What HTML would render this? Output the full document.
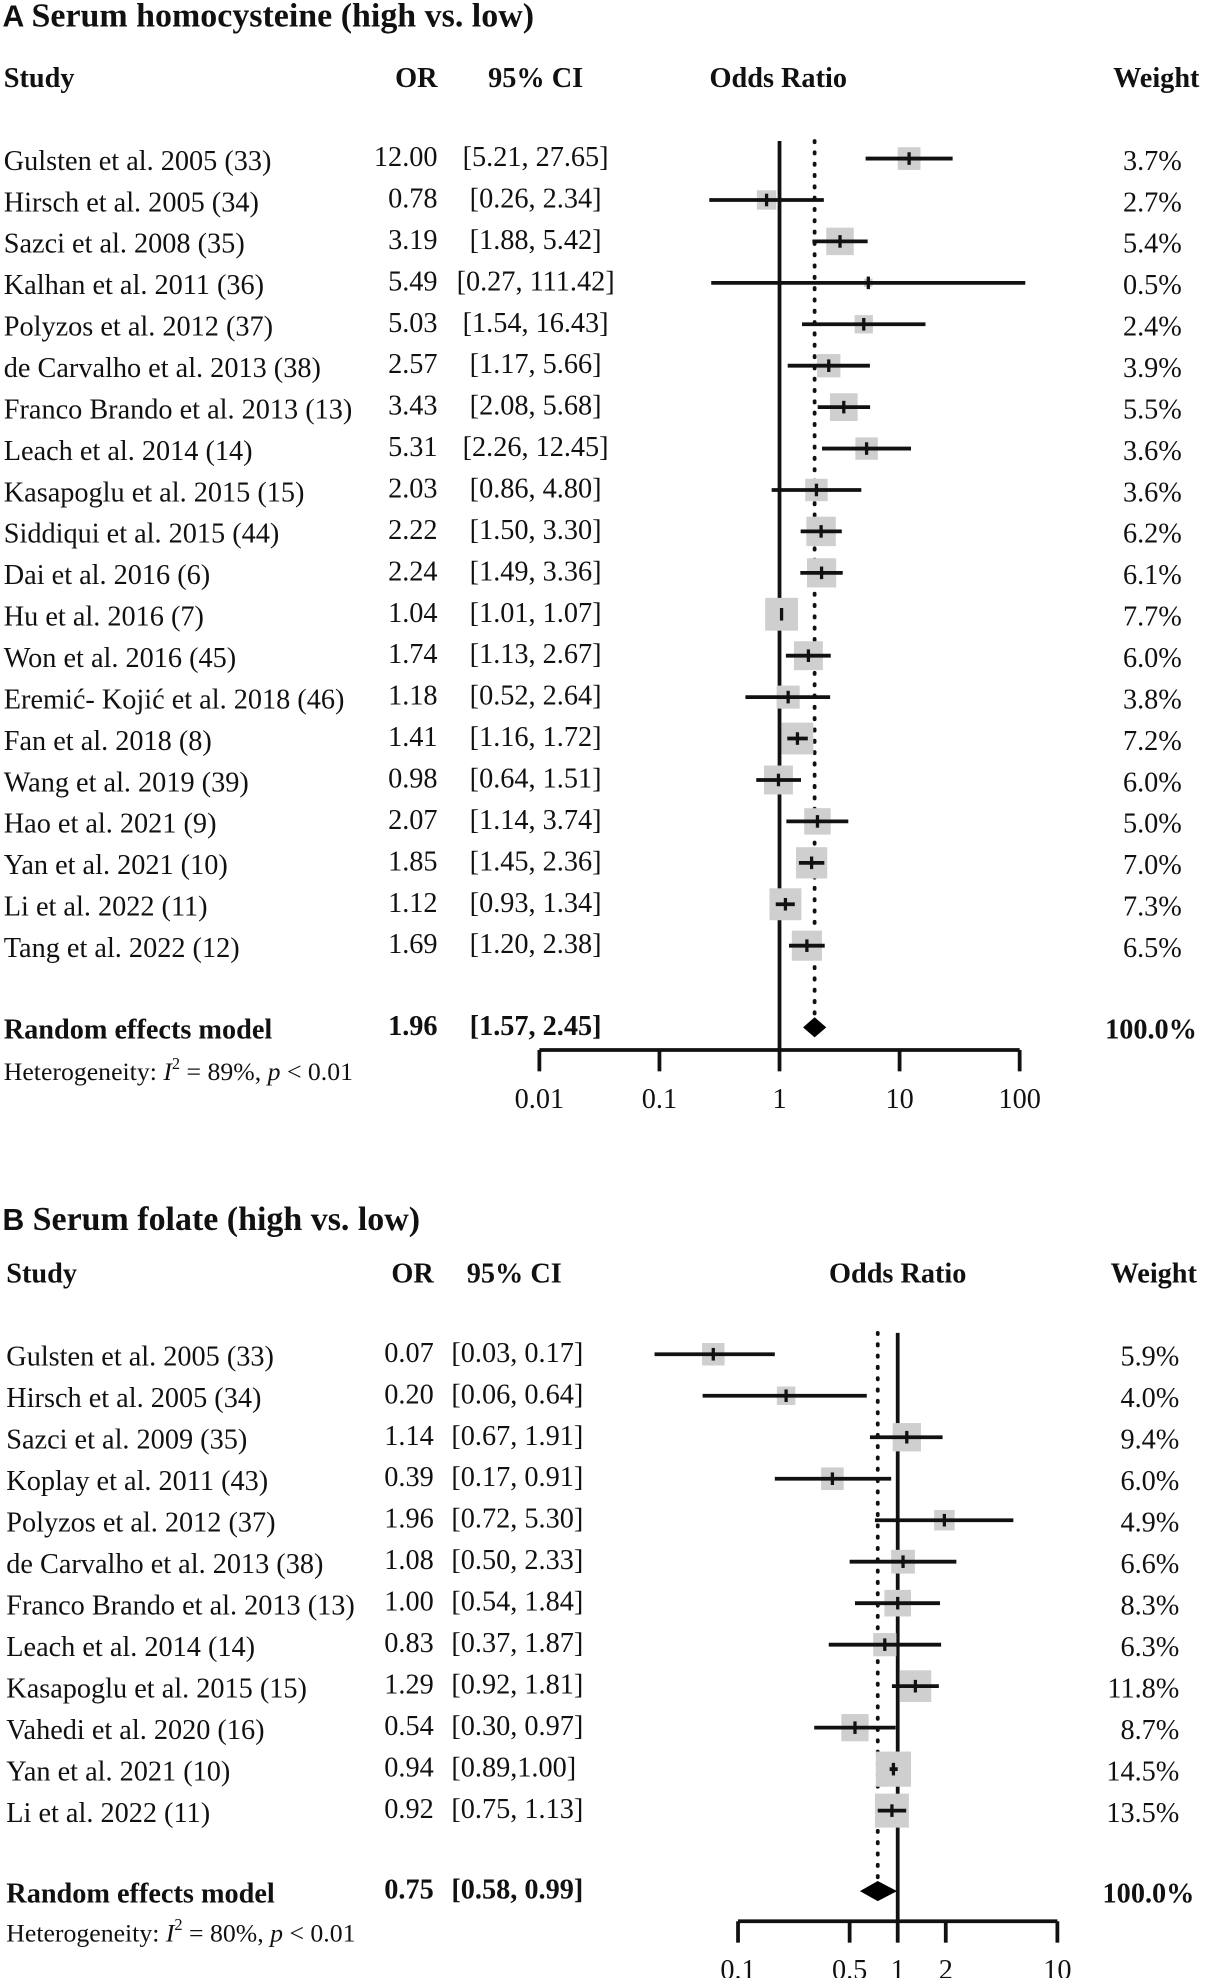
<!DOCTYPE html>
<html><head><meta charset="utf-8"><style>
html,body{margin:0;padding:0;background:#fff}
svg{display:block}
text{font-family:"Liberation Serif",serif;fill:#111}
.b{font-weight:bold}
</style></head><body>
<svg id="fig" width="1207" height="1978" viewBox="0 0 960 1573" xmlns="http://www.w3.org/2000/svg">
<g id="gA"></g>
<g id="gB"></g>
</svg>
<script>
const studiesA=["Gulsten et al. 2005 (33)","Hirsch et al. 2005 (34)","Sazci et al. 2008 (35)","Kalhan et al. 2011 (36)","Polyzos et al. 2012 (37)","de Carvalho et al. 2013 (38)","Franco Brando et al. 2013 (13)","Leach et al. 2014 (14)","Kasapoglu et al. 2015 (15)","Siddiqui et al. 2015 (44)","Dai et al. 2016 (6)","Hu et al. 2016 (7)","Won et al. 2016 (45)","Eremić- Kojić et al. 2018 (46)","Fan et al. 2018 (8)","Wang et al. 2019 (39)","Hao et al. 2021 (9)","Yan et al. 2021 (10)","Li et al. 2022 (11)","Tang et al. 2022 (12)"];
const orA=[12.00,0.78,3.19,5.49,5.03,2.57,3.43,5.31,2.03,2.22,2.24,1.04,1.74,1.18,1.41,0.98,2.07,1.85,1.12,1.69];
const loA=[5.21,0.26,1.88,0.27,1.54,1.17,2.08,2.26,0.86,1.50,1.49,1.01,1.13,0.52,1.16,0.64,1.14,1.45,0.93,1.20];
const hiA=[27.65,2.34,5.42,111.42,16.43,5.66,5.68,12.45,4.80,3.30,3.36,1.07,2.67,2.64,1.72,1.51,3.74,2.36,1.34,2.38];
const ciTextA=["[5.21, 27.65]","[0.26, 2.34]","[1.88, 5.42]","[0.27, 111.42]","[1.54, 16.43]","[1.17, 5.66]","[2.08, 5.68]","[2.26, 12.45]","[0.86, 4.80]","[1.50, 3.30]","[1.49, 3.36]","[1.01, 1.07]","[1.13, 2.67]","[0.52, 2.64]","[1.16, 1.72]","[0.64, 1.51]","[1.14, 3.74]","[1.45, 2.36]","[0.93, 1.34]","[1.20, 2.38]"];
const wA=[3.7,2.7,5.4,0.5,2.4,3.9,5.5,3.6,3.6,6.2,6.1,7.7,6.0,3.8,7.2,6.0,5.0,7.0,7.3,6.5];
const pooledA=[1.96,1.57,2.45];
const ticksA=[0.01,0.1,1,10,100];
const tickLabelsA=["0.01","0.1","1","10","100"];

const studiesB=["Gulsten et al. 2005 (33)","Hirsch et al. 2005 (34)","Sazci et al. 2009 (35)","Koplay et al. 2011 (43)","Polyzos et al. 2012 (37)","de Carvalho et al. 2013 (38)","Franco Brando et al. 2013 (13)","Leach et al. 2014 (14)","Kasapoglu et al. 2015 (15)","Vahedi et al. 2020 (16)","Yan et al. 2021 (10)","Li et al. 2022 (11)"];
const orB=[0.07,0.20,1.14,0.39,1.96,1.08,1.00,0.83,1.29,0.54,0.94,0.92];
const loB=[0.03,0.06,0.67,0.17,0.72,0.50,0.54,0.37,0.92,0.30,0.89,0.75];
const hiB=[0.17,0.64,1.91,0.91,5.30,2.33,1.84,1.87,1.81,0.97,1.00,1.13];
const ciTextB=["[0.03, 0.17]","[0.06, 0.64]","[0.67, 1.91]","[0.17, 0.91]","[0.72, 5.30]","[0.50, 2.33]","[0.54, 1.84]","[0.37, 1.87]","[0.92, 1.81]","[0.30, 0.97]","[0.89,1.00]","[0.75, 1.13]"];
const wB=[5.9,4.0,9.4,6.0,4.9,6.6,8.3,6.3,11.8,8.7,14.5,13.5];
const pooledB=[0.75,0.58,0.99];
const ticksB=[0.1,0.5,1,2,10];
const tickLabelsB=["0.1","0.5","1","2","10"];

const NS="http://www.w3.org/2000/svg";
function mk(p,tag,at,txt){const e=document.createElementNS(NS,tag);for(const k in at)e.setAttribute(k,at[k]);if(txt!==undefined)e.textContent=txt;p.appendChild(e);return e;}

function panel(g,cfg){
  const x=v=>cfg.x1+Math.log10(v)*cfg.dec;
  const y=i=>cfg.y0+i*cfg.step;
  const fs=22.5, sw=3;
  let t=mk(g,'text',{x:2,y:cfg.titleY,'font-size':27,class:'b'});
  
  
  const ts=document.createElementNS(NS,'tspan');ts.setAttribute('style','font-family:"Liberation Sans",sans-serif');ts.setAttribute('font-size','24');ts.textContent=cfg.letter+' ';t.appendChild(ts);
  const ts2=document.createElementNS(NS,'tspan');ts2.textContent=cfg.title;t.appendChild(ts2);
  const hdr=[[cfg.studyX,'Study','start'],[cfg.orX,'OR','end'],[cfg.ciHX,'95% CI','middle'],[cfg.orHeadX,'Odds Ratio','middle'],[cfg.wX+14,'Weight','end']];
  hdr.forEach(h=>{const e=mk(g,'text',{x:h[0],y:cfg.hdrY,'font-size':fs,'text-anchor':h[2],class:'b'},h[1]);
    
    });
  let l=mk(g,'line',{x1:x(1),x2:x(1),y1:cfg.lineTop,y2:cfg.axisY,stroke:'#111','stroke-width':sw});
  
  
  l=mk(g,'line',{x1:x(cfg.pooled[0]),x2:x(cfg.pooled[0]),y1:cfg.lineTop,y2:cfg.poolY-8,stroke:'#111','stroke-width':3,'stroke-dasharray':'1 8','stroke-linecap':'round'});
  
  
  cfg.studies.forEach((s,i)=>{
    const cy=y(i);
    let e=mk(g,'text',{x:cfg.studyX,y:cy+9,'font-size':fs},s);
    
    
    e=mk(g,'text',{x:cfg.orX,y:cy+6,'font-size':fs,'text-anchor':'end'},cfg.or[i].toFixed(2));
    
    
    e=mk(g,'text',{x:cfg.ciX,y:cy+6,'font-size':fs,'text-anchor':cfg.ciAnchor},cfg.ciText[i]);
    
    
    e=mk(g,'text',{x:cfg.wX,y:cy+9,'font-size':fs,'text-anchor':'end'},cfg.w[i].toFixed(1)+'%');
    
    
    const sz=Math.sqrt(cfg.w[i])*cfg.boxK;
    e=mk(g,'rect',{x:x(cfg.or[i])-sz/2,y:cy-sz/2,width:sz,height:sz,fill:'#cfcfcf'});
    
    
    e=mk(g,'line',{x1:x(cfg.lo[i]),x2:x(cfg.hi[i]),y1:cy,y2:cy,stroke:'#111','stroke-width':sw});
    
    
    e=mk(g,'line',{x1:x(cfg.or[i]),x2:x(cfg.or[i]),y1:cy-5,y2:cy+5,stroke:'#111','stroke-width':2.6});
    
    
  });
  const py=cfg.poolY;
  let e=mk(g,'text',{x:cfg.studyX,y:py+9,'font-size':fs,class:'b'},'Random effects model');
  
  
  e=mk(g,'text',{x:cfg.orX,y:py+6,'font-size':fs,'text-anchor':'end',class:'b'},cfg.pooled[0].toFixed(2));
  
  
  e=mk(g,'text',{x:cfg.ciX,y:py+6,'font-size':fs,'text-anchor':cfg.ciAnchor,class:'b'},'['+cfg.pooled[1].toFixed(2)+', '+cfg.pooled[2].toFixed(2)+']');
  
  
  e=mk(g,'text',{x:cfg.wX+12,y:py+9,'font-size':fs,'text-anchor':'end',class:'b'},'100.0%');
  
  
  const xl=x(cfg.pooled[1]),xh=x(cfg.pooled[2]),xm=x(cfg.pooled[0]),dh=cfg.dh;
  e=mk(g,'polygon',{points:`${xl},${py} ${xm},${py-dh} ${xh},${py} ${xm},${py+dh}`,fill:'#000'});
  
  
  e=mk(g,'text',{x:cfg.studyX,y:py+cfg.hetDy,'font-size':20.5});
  
  
  e.innerHTML=`Heterogeneity: <tspan font-style="italic">I</tspan><tspan dy="-9" font-size="13">2</tspan><tspan dy="9"> = ${cfg.i2}%, </tspan><tspan font-style="italic">p</tspan> &lt; 0.01`;
  const ax=x(cfg.ticks[0]),bx=x(cfg.ticks[cfg.ticks.length-1]);
  e=mk(g,'line',{x1:ax,x2:bx,y1:cfg.axisY,y2:cfg.axisY,stroke:'#111','stroke-width':sw});
  
  
  cfg.ticks.forEach((v,k)=>{
    let t=mk(g,'line',{x1:x(v),x2:x(v),y1:cfg.axisY,y2:cfg.axisY+17,stroke:'#111','stroke-width':sw});
    
    
    t=mk(g,'text',{x:x(v),y:cfg.axisY+46,'font-size':fs,'text-anchor':'middle'},cfg.tickLabels[k]);
    
    
  });
}
panel(document.getElementById('gA'),{letter:'A',title:'Serum homocysteine (high vs. low)',titleY:21,hdrY:69,
  studyX:3,orX:348,ciX:426,ciAnchor:'middle',ciHX:426,orHeadX:619,wX:940,
  x1:620,dec:95.5,y0:126,step:32.95,lineTop:112,axisY:835,poolY:817,dh:8,hetDy:42,i2:89,boxK:9.4,
  studies:studiesA,or:orA,lo:loA,hi:hiA,ciText:ciTextA,w:wA,pooled:pooledA,ticks:ticksA,tickLabels:tickLabelsA});
panel(document.getElementById('gB'),{letter:'B',title:'Serum folate (high vs. low)',titleY:978,hdrY:1020,
  studyX:5,orX:345,ciX:359,ciAnchor:'start',ciHX:409,orHeadX:714,wX:938,
  x1:714,dec:127,y0:1077,step:33,lineTop:1060,axisY:1528,poolY:1504,dh:8,hetDy:40,i2:80,boxK:7.35,
  studies:studiesB,or:orB,lo:loB,hi:hiB,ciText:ciTextB,w:wB,pooled:pooledB,ticks:ticksB,tickLabels:tickLabelsB});
</script>
</body></html>
